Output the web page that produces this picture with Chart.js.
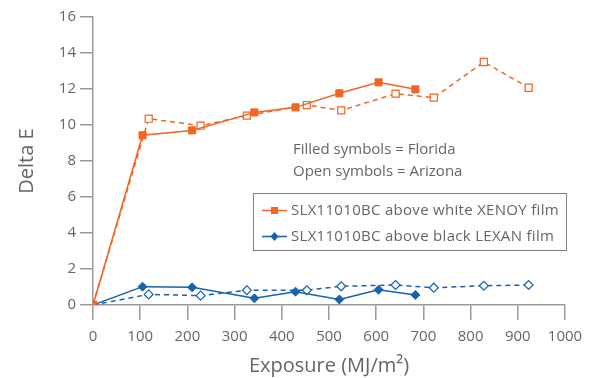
<!DOCTYPE html>
<html>
<head>
<meta charset="utf-8">
<title>Delta E vs exposure</title>
<script src="https://cdn.jsdelivr.net/npm/chart.js@4/dist/chart.umd.min.js"></script>
<style>
    body { margin: 0; background: #fff; }
    #wrap { width: 598px; height: 378px; }
</style>
</head>
<body>
<div id="wrap"><canvas id="chart" width="598" height="378"></canvas></div>
<script>
// Exposure points (MJ/m2) for each test site
const floridaExposure = [0, 105, 210, 342, 429, 522, 605, 683];
const arizonaExposure = [0, 118, 228, 326, 453, 526, 641, 722, 828, 923];

// Delta E readings, filled symbols = Florida, open symbols = Arizona
const xenoyFlorida = [0, 9.43, 9.70, 10.70, 10.98, 11.76, 12.37, 11.98];
const xenoyArizona = [0, 10.35, 9.96, 10.52, 11.11, 10.81, 11.74, 11.52, 13.50, 12.07];
const lexanFlorida = [0, 1.02, 0.98, 0.37, 0.74, 0.31, 0.85, 0.56];
const lexanArizona = [0, 0.59, 0.52, 0.82, 0.82, 1.04, 1.11, 0.96, 1.07, 1.11];

const seriesNames = ['SLX11010BC above white XENOY film', 'SLX11010BC above black LEXAN film'];
const noteLines = ['Filled symbols = Florida', 'Open symbols = Arizona'];

const ORANGE = '#f26522';
const BLUE = '#1763ad';
const TEXT = '#666666';
const AXIS = '#9a9a9a';
const FONT = '"Open Sans", "Noto Sans", sans-serif';

function toPoints(xs, ys) {
    return xs.map((x, i) => ({ x: x, y: ys[i] }));
}

function series(xs, ys, color, shape, open) {
    return {
        data: toPoints(xs, ys),
        borderColor: color,
        borderWidth: 1.5,
        borderDash: open ? [5, 4] : [],
        pointStyle: shape,
        pointRadius: shape === 'rect' ? 5 : 4.5,
        pointBorderWidth: open ? 1.2 : 1,
        pointBackgroundColor: open ? '#ffffff' : color,
        pointBorderColor: color,
        tension: 0,
        fill: false
    };
}

// Legend box and site note drawn inside the plot
const notesPlugin = {
    id: 'notes',
    afterDraw(chart) {
        const ctx = chart.ctx;
        ctx.save();
        ctx.font = '15px ' + FONT;
        ctx.fillStyle = TEXT;
        ctx.textBaseline = 'middle';
        ctx.textAlign = 'left';
        ctx.fillText(noteLines[0], 293, 150);
        ctx.fillText(noteLines[1], 293, 172);

        // legend frame
        ctx.fillStyle = '#ffffff';
        ctx.fillRect(253.5, 193.5, 313, 57);
        ctx.strokeStyle = '#808080';
        ctx.lineWidth = 1;
        ctx.strokeRect(253.5, 193.5, 313, 57);

        const rows = [
            { color: ORANGE, shape: 'rect', y: 210.5 },
            { color: BLUE, shape: 'rectRot', y: 236.5 }
        ];
        ctx.letterSpacing = '0.3px';
        rows.forEach((row, i) => {
            ctx.strokeStyle = row.color;
            ctx.lineWidth = 1.5;
            ctx.beginPath();
            ctx.moveTo(262, row.y);
            ctx.lineTo(287, row.y);
            ctx.stroke();
            ctx.fillStyle = row.color;
            ctx.beginPath();
            if (row.shape === 'rect') {
                ctx.rect(274.5 - 3.5, row.y - 3.5, 7, 7);
            } else {
                ctx.moveTo(274.5, row.y - 4.5);
                ctx.lineTo(278.5, row.y);
                ctx.lineTo(274.5, row.y + 4.5);
                ctx.lineTo(270.5, row.y);
                ctx.closePath();
            }
            ctx.fill();
            ctx.fillStyle = TEXT;
            ctx.fillText(seriesNames[i], 291, row.y);
        });
        ctx.restore();
    }
};

new Chart(document.getElementById('chart'), {
    type: 'line',
    data: {
        datasets: [
            series(floridaExposure, xenoyFlorida, ORANGE, 'rect', false),
            series(arizonaExposure, xenoyArizona, ORANGE, 'rect', true),
            series(floridaExposure, lexanFlorida, BLUE, 'rectRot', false),
            series(arizonaExposure, lexanArizona, BLUE, 'rectRot', true)
        ]
    },
    options: {
        responsive: false,
        animation: false,
        layout: { padding: { top: 17, right: 33, left: 0, bottom: 0 } },
        plugins: {
            legend: { display: false },
            tooltip: { enabled: false }
        },
        scales: {
            x: {
                type: 'linear',
                min: 0,
                max: 1000,
                ticks: {
                    stepSize: 100, color: TEXT, font: { family: FONT, size: 15 }, padding: 8, maxRotation: 0,
                    callback: (v) => String(v)
                },
                grid: { drawOnChartArea: false, tickLength: 15, color: AXIS, lineWidth: 1.5 },
                border: { color: AXIS, width: 1.5 },
                title: { display: true, text: 'Exposure (MJ/m²)', color: TEXT, font: { family: FONT, size: 20 }, padding: { top: 0, bottom: 0 } },
                afterFit(scale) { scale.height = 73; }
            },
            y: {
                min: 0,
                max: 16,
                ticks: { stepSize: 2, color: TEXT, font: { family: FONT, size: 15 }, padding: 4 },
                grid: { drawOnChartArea: false, tickLength: 13, color: AXIS, lineWidth: 1.5 },
                border: { color: AXIS, width: 1.5 },
                title: { display: true, text: 'Delta E', color: TEXT, font: { family: FONT, size: 20 }, padding: { top: 15, bottom: 0 } },
                afterFit(scale) { scale.width = 93; }
            }
        }
    },
    plugins: [notesPlugin]
});
</script>
</body>
</html>
